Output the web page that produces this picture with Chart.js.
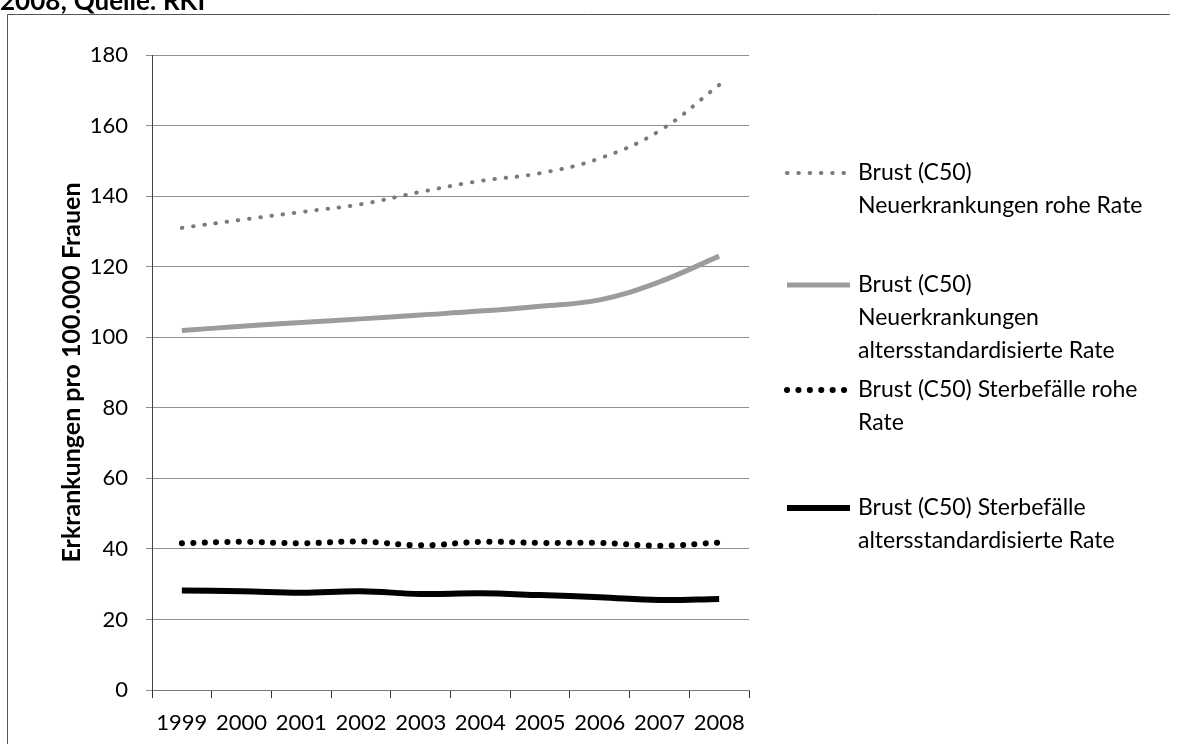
<!DOCTYPE html>
<html>
<head>
<meta charset="utf-8">
<script src="https://cdn.jsdelivr.net/npm/chart.js@4"></script>
<style>
  html, body { margin: 0; padding: 0; background: #fff; }
  canvas { display: block; }
</style>
</head>
<body>
<canvas id="grafik" width="1182" height="744"></canvas>
<script>
// Brustkrebs (C50), Raten je 100.000 Frauen, 1999-2008
const jahre = ['1999', '2000', '2001', '2002', '2003', '2004', '2005', '2006', '2007', '2008'];
const neuRoh = [131, 133.3, 135.5, 137.7, 141.2, 144.3, 146.5, 150.7, 158.5, 171.5];
const neuAlt = [101.9, 103.1, 104.2, 105.2, 106.3, 107.4, 108.8, 110.6, 115.7, 123];
const sterbRoh = [41.6, 42.0, 41.6, 42.1, 41.0, 42.0, 41.7, 41.7, 40.9, 41.8];
const sterbAlt = [28.2, 28.0, 27.6, 28.0, 27.2, 27.4, 26.9, 26.3, 25.5, 25.8];

const legendeZeilen = [
    ['Brust (C50)', 'Neuerkrankungen rohe Rate'],
    ['Brust (C50)', 'Neuerkrankungen', 'altersstandardisierte Rate'],
    ['Brust (C50) Sterbefälle rohe', 'Rate'],
    ['Brust (C50) Sterbefälle', 'altersstandardisierte Rate']
];
const yTitel = 'Erkrankungen pro 100.000 Frauen';
const kopfText = '2008; Quelle: RKI';

const schrift = 'Lato';

// Legende rechts neben dem Diagramm, mit mehrzeiligen Texten
const legendePlugin = {
    id: 'legendeRechts',
    afterDraw(chart) {
        const ctx = chart.ctx;
        const linienY = [173, 285, 390, 508];
        chart.data.datasets.forEach((ds, i) => {
            const y = linienY[i];
            ctx.save();
            ctx.strokeStyle = ds.borderColor;
            ctx.lineWidth = ds.borderWidth;
            ctx.lineCap = ds.borderCapStyle || 'butt';
            ctx.setLineDash(ds.borderDash || []);
            ctx.beginPath();
            ctx.moveTo(787, y);
            ctx.lineTo(850, y);
            ctx.stroke();
            ctx.restore();

            ctx.save();
            ctx.fillStyle = '#000';
            ctx.font = '23px ' + schrift;
            ctx.textBaseline = 'middle';
            legendeZeilen[i].forEach((zeile, j) => {
                ctx.fillText(zeile, 858, y + j * 33);
            });
            ctx.restore();
        });
    }
};

// Rahmen und abgeschnittene Kopfzeile
const rahmenPlugin = {
    id: 'rahmen',
    beforeDraw(chart) {
        const ctx = chart.ctx;
        ctx.save();
        ctx.fillStyle = '#fff';
        ctx.fillRect(0, 0, chart.width, chart.height);
        ctx.strokeStyle = '#555';
        ctx.lineWidth = 1;
        ctx.beginPath();
        ctx.moveTo(7.5, 744);
        ctx.lineTo(7.5, 14.5);
        ctx.lineTo(1170, 14.5);
        ctx.stroke();
        ctx.fillStyle = '#000';
        ctx.font = 'bold 26px ' + schrift;
        ctx.textBaseline = 'alphabetic';
        ctx.fillText(kopfText, 0, 10);
        ctx.restore();
    }
};

const grafik = new Chart(document.getElementById('grafik'), {
    type: 'line',
    data: {
        labels: jahre,
        datasets: [
            {
                label: legendeZeilen[0].join(' '),
                data: neuRoh,
                borderColor: '#7a7a7a',
                borderWidth: 4,
                borderDash: [0.5, 10.8],
                borderCapStyle: 'round',
                tension: 0.4,
                pointRadius: 0
            },
            {
                label: legendeZeilen[1].join(' '),
                data: neuAlt,
                borderColor: '#9c9c9c',
                borderWidth: 5,
                tension: 0.4,
                pointRadius: 0
            },
            {
                label: legendeZeilen[2].join(' '),
                data: sterbRoh,
                borderColor: '#000',
                borderWidth: 6,
                borderDash: [0.1, 11.3],
                borderCapStyle: 'round',
                tension: 0.4,
                pointRadius: 0
            },
            {
                label: legendeZeilen[3].join(' '),
                data: sterbAlt,
                borderColor: '#000',
                borderWidth: 6,
                tension: 0.4,
                pointRadius: 0
            }
        ]
    },
    options: {
        responsive: false,
        animation: false,
        devicePixelRatio: 1,
        layout: {
            padding: { left: 0, top: 55, right: 433, bottom: 0 }
        },
        scales: {
            x: {
                offset: true,
                afterFit(scale) { scale.height = 54; },
                grid: {
                    drawOnChartArea: false,
                    drawTicks: true,
                    tickLength: 8,
                    offset: true,
                    color: '#333'
                },
                border: { color: '#777' },
                ticks: {
                    color: '#000',
                    font: { family: schrift, size: 22 },
                    padding: 12,
                    maxRotation: 0,
                    autoSkip: false
                }
            },
            y: {
                min: 0,
                max: 180,
                afterFit(scale) { scale.width = 152; },
                grid: {
                    color: '#8f8f8f',
                    lineWidth: 1,
                    tickLength: 6
                },
                border: { color: '#444' },
                ticks: {
                    stepSize: 20,
                    color: '#000',
                    font: { family: schrift, size: 22 },
                    padding: 18
                },
                title: {
                    display: true,
                    text: yTitel,
                    color: '#000',
                    font: { family: schrift, size: 25, weight: 'bold' },
                    padding: { top: 57, bottom: 0 }
                }
            }
        },
        plugins: {
            legend: { display: false },
            tooltip: { enabled: false }
        }
    },
    plugins: [rahmenPlugin, legendePlugin]
});
</script>
</body>
</html>
